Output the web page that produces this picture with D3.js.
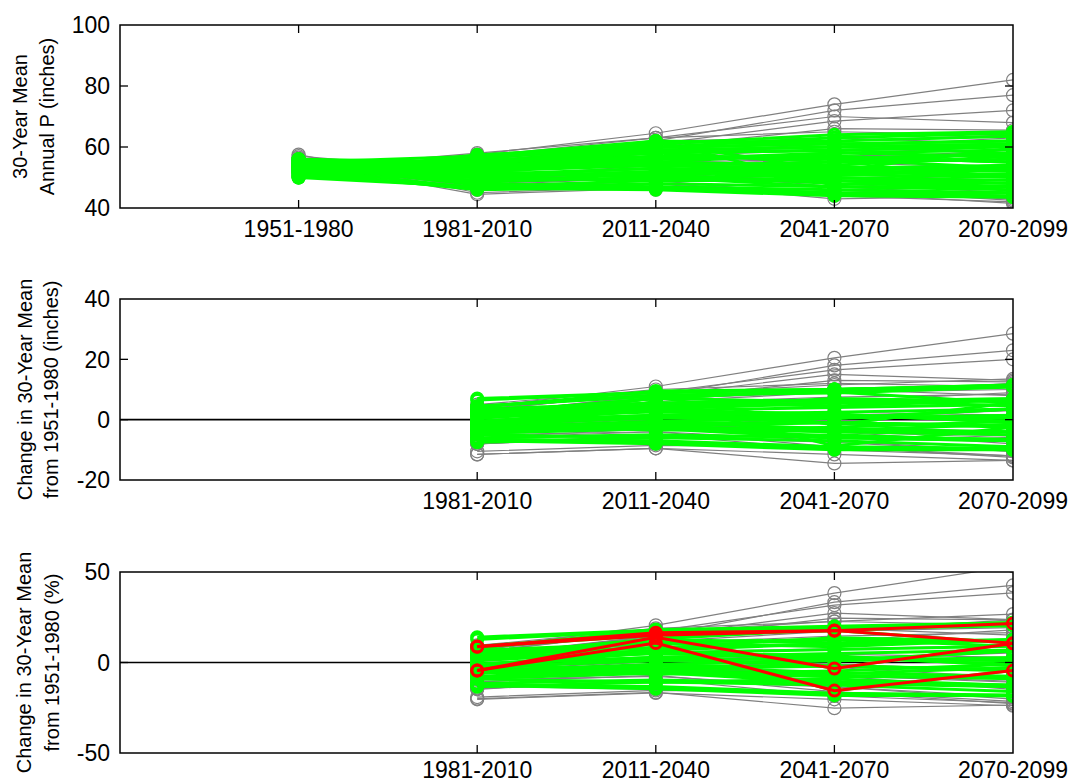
<!DOCTYPE html>
<html>
<head>
<meta charset="utf-8">
<script src="https://cdn.jsdelivr.net/npm/d3@7"></script>
<style>
    body { margin: 0; background: #fff; }
    text { font-family: "Liberation Sans", Arial, Helvetica, sans-serif; fill: #000; }
</style>
</head>
<body>
<svg id="svg_precip" width="1071" height="784"></svg>
<script>
// 30-year periods (x tick labels)
const periods = ["1951-1980", "1981-2010", "2011-2040", "2041-2070", "2070-2099"];

// 30-year mean annual precipitation (inches) for each model run, one value per period
// all runs (drawn grey)
const grayModels = [
    [53.5, 57.5, 64.5, 74, 82],
    [54, 56, 62, 72, 77],
    [52, 55, 61, 68.5, 72],
    [55, 57, 63, 70, 68],
    [53, 55.5, 60, 66, 65.5],
    [56, 50, 52, 47, 44],
    [57.5, 46, 48, 43, 44],
    [56.5, 45, 47, 45, 43],
    [55, 44.5, 46.5, 46, 42.5],
    [54, 46, 49, 44, 42],
    [52, 47, 48, 45, 41.5],
    [55.5, 47.5, 50, 48, 45],
    [51, 53, 58, 60, 63],
    [50.5, 54, 59, 62, 64],
    [53, 56, 62, 63, 61],
    [54.5, 52, 55, 53, 50],
    [52.5, 50, 51, 49, 47],
    [55, 49, 52, 51, 49],
    [53, 52, 56, 57, 58],
    [51.5, 53.5, 57, 59, 60],
    [54, 51, 53, 50, 46],
    [56, 48, 50, 49, 47],
    [52, 54, 58, 61, 62],
    [53.5, 50, 54, 56, 55],
    [55.5, 53, 57, 55, 53],
    [50, 52, 55, 56, 59],
    [54, 47, 46, 45, 44],
    [52.5, 51, 50, 47, 46],
    [57, 52, 56, 58, 60],
    [53, 58, 63, 65, 64]
];

// subset of runs (drawn green)
const greenModels = [
    [50, 57, 59, 60, 61],
    [51, 57.5, 60, 61, 62],
    [52, 56, 61.5, 62, 63.5],
    [53, 55, 60, 63, 64.5],
    [54, 56, 61, 64, 65],
    [55, 57, 62, 61, 62],
    [56, 55, 59, 60, 61],
    [50.5, 53, 56, 57, 55],
    [51.5, 55, 57, 56, 58],
    [52.5, 54, 56, 58, 59],
    [53.5, 53, 55, 54, 57],
    [54.5, 52, 54, 55, 56],
    [55.5, 51, 53, 52, 54],
    [56, 48.5, 50, 49, 47],
    [55, 48, 47, 45, 45],
    [54, 47.5, 46.5, 44.5, 44],
    [53, 46.5, 46, 44, 43.5],
    [52, 46, 47, 46, 45],
    [51, 46.5, 48, 47, 47],
    [50, 47, 49, 49, 48],
    [53, 50, 52, 50, 49],
    [54, 51, 51, 48, 47],
    [52.5, 52, 50, 47, 46],
    [51.5, 52.5, 54, 53, 52],
    [55.5, 54, 56, 57, 55],
    [53.5, 55.5, 58, 59, 60],
    [54, 53.5, 57, 56, 53],
    [52, 50.5, 53, 51, 50],
    [56, 53, 54, 52, 51],
    [50.5, 50, 52, 53, 54],
    [53, 49, 51, 52, 50.5],
    [55, 50, 49, 50, 48],
    [51, 54, 55, 58, 57],
    [54.5, 55, 58, 55, 58],
    [52, 53, 55, 53.5, 52.5],
    [53.5, 52, 50, 51, 53]
];

// highlighted runs (green in the top panels, red in the % panel)
const redModels = [
    [50, 54.4, 58.2, 58.8, 60.8],
    [52, 56.5, 59.8, 61.2, 57.5],
    [54, 51.6, 61.5, 52.2, 59.7],
    [56, 53.5, 62, 47.3, 53.5]
];

// y axis ticks per panel
const ticksP = [40, 60, 80, 100];
const ticksChange = [-20, 0, 20, 40];
const ticksPct = [-50, 0, 50];

let svg = d3.select("#svg_precip");
let left = 120, right = 1013;
let xScale = d3.scaleLinear().domain([0, 5]).range([left, right]);

// value per period for each panel
function rawValues(m) {
    return m.map((v, i) => ({i: i, v: v}));
}
function changeValues(m) {
    return m.slice(1).map((v, i) => ({i: i + 1, v: v - m[0]}));
}
function pctValues(m) {
    return m.slice(1).map((v, i) => ({i: i + 1, v: 100 * (v - m[0]) / m[0]}));
}

let panels = [
    {top: 25, bottom: 208, domain: [40, 100], ticks: ticksP, values: rawValues, first: 0, labelDy: 29,
        label: ["30-Year Mean", "Annual P (inches)"], labelX: [27, 54], zero: false, red: false},
    {top: 299, bottom: 480, domain: [-20, 40], ticks: ticksChange, values: changeValues, first: 1, labelDy: 29,
        label: ["Change in 30-Year Mean", "from 1951-1980 (inches)"], labelX: [32, 58], zero: true, red: false},
    {top: 572, bottom: 753, domain: [-50, 50], ticks: ticksPct, values: pctValues, first: 1, labelDy: 25,
        label: ["Change in 30-Year Mean", "from 1951-1980 (%)"], labelX: [31, 59], zero: true, red: true}
];

panels.forEach((p, k) => {
    let yScale = d3.scaleLinear().domain(p.domain).range([p.bottom, p.top]);
    let g = svg.append("g").attr("id", "panel" + k);

    svg.append("clipPath").attr("id", "clip" + k)
        .append("rect")
        .attr("x", left).attr("y", p.top)
        .attr("width", right - left).attr("height", p.bottom - p.top);

    let plot = g.append("g").attr("clip-path", "url(#clip" + k + ")");

    if (p.zero) {
        plot.append("line")
            .attr("x1", left).attr("x2", right)
            .attr("y1", yScale(0)).attr("y2", yScale(0))
            .attr("stroke", "#000").attr("stroke-width", 1.6);
    }

    let line = d3.line().x(d => xScale(d.i + 1)).y(d => yScale(d.v));

    function drawSet(models, color, width, r) {
        let set = plot.append("g");
        models.forEach(m => {
            let vals = p.values(m);
            set.append("path")
                .attr("d", line(vals))
                .attr("fill", "none")
                .attr("stroke", color)
                .attr("stroke-width", width);
            set.selectAll(null)
                .data(vals)
                .enter().append("circle")
                .attr("cx", d => xScale(d.i + 1))
                .attr("cy", d => yScale(d.v))
                .attr("r", r)
                .attr("fill", "none")
                .attr("stroke", color)
                .attr("stroke-width", width);
        });
    }

    drawSet(grayModels, "#808080", 1.2, 6.5);
    drawSet(greenModels.concat(redModels), "#00ff00", 3, 5.5);
    if (p.red) drawSet(redModels, "#ff0000", 3, 5.5);

    // box
    g.append("rect")
        .attr("x", left).attr("y", p.top)
        .attr("width", right - left).attr("height", p.bottom - p.top)
        .attr("fill", "none").attr("stroke", "#000").attr("stroke-width", 1.5);

    // x ticks (inside, bottom and top) with labels
    let xTicks = d3.range(p.first, periods.length);
    xTicks.forEach(i => {
        let x = xScale(i + 1);
        if (i < periods.length - 1) {
            g.append("line").attr("x1", x).attr("x2", x)
                .attr("y1", p.bottom).attr("y2", p.bottom - 8)
                .attr("stroke", "#000").attr("stroke-width", 1.3);
            g.append("line").attr("x1", x).attr("x2", x)
                .attr("y1", p.top).attr("y2", p.top + 8)
                .attr("stroke", "#000").attr("stroke-width", 1.3);
        }
        g.append("text")
            .attr("x", x).attr("y", p.bottom + p.labelDy)
            .attr("text-anchor", "middle")
            .style("font-size", "23px")
            .text(periods[i]);
    });

    // y ticks (inside, left and right) with labels
    p.ticks.forEach(t => {
        let y = yScale(t);
        if (t !== p.domain[0] && t !== p.domain[1]) {
            g.append("line").attr("x1", left).attr("x2", left + 8)
                .attr("y1", y).attr("y2", y)
                .attr("stroke", "#000").attr("stroke-width", 1.3);
            g.append("line").attr("x1", right).attr("x2", right - 8)
                .attr("y1", y).attr("y2", y)
                .attr("stroke", "#000").attr("stroke-width", 1.3);
        }
        g.append("text")
            .attr("x", 110).attr("y", y)
            .attr("dy", "0.36em")
            .attr("text-anchor", "end")
            .style("font-size", "23px")
            .text(t);
    });

    // y label, two lines
    let cy = (p.top + p.bottom) / 2;
    p.label.forEach((s, j) => {
        g.append("text")
            .attr("transform", "translate(" + p.labelX[j] + "," + cy + ") rotate(-90)")
            .attr("text-anchor", "middle")
            .style("font-size", "20px")
            .text(s);
    });
});
</script>
</body>
</html>
